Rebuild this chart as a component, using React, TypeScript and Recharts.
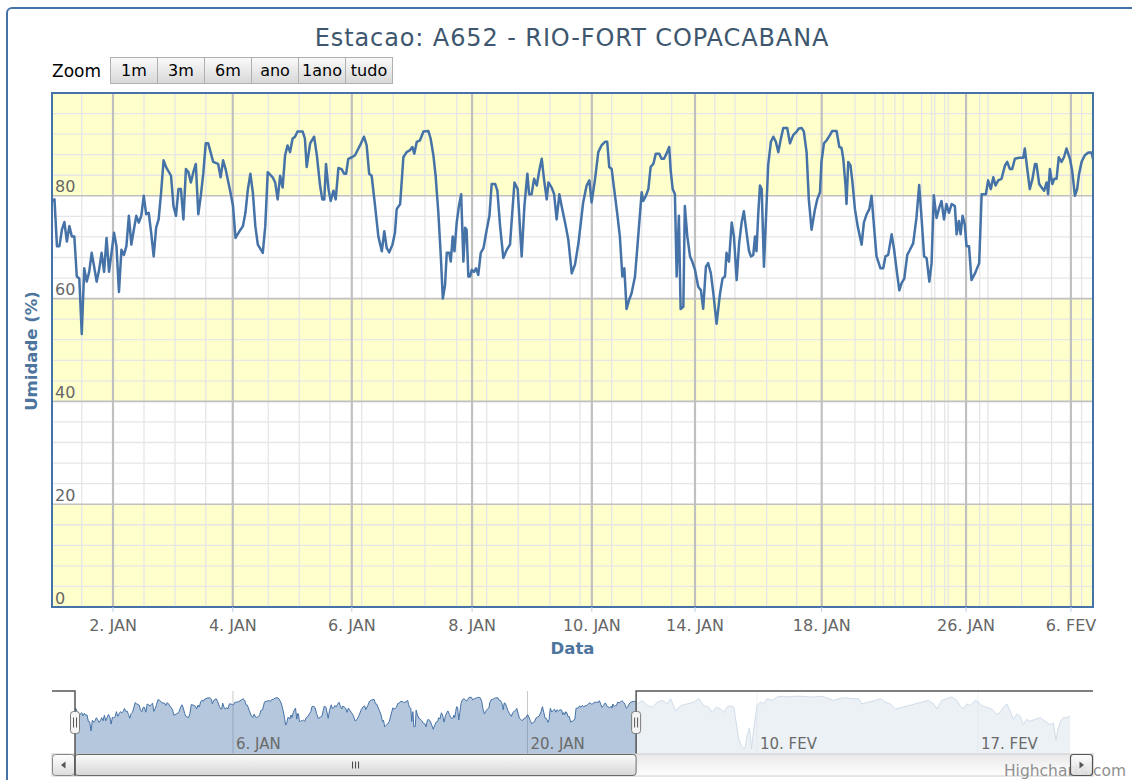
import React from 'react';
import { ComposedChart, Line, Area, XAxis, YAxis, ReferenceArea, ReferenceLine } from 'recharts';

const FONT = '"DejaVu Sans", Verdana, sans-serif';

// ordinal hour position of each reading (gaps removed, as on the chart's ordinal axis)
const JAN_HOURS = [
  0, 1, 2, 3, 4, 5, 6, 7, 8, 9,
  10, 11, 12, 13, 14, 15, 16, 17, 18, 19,
  20, 21, 22, 23, 24, 25, 26, 27, 28, 29,
  30, 31, 32, 33, 34, 35, 36, 37, 38, 39,
  40, 41, 42, 43, 44, 45, 46, 48, 49, 50,
  51, 52, 53, 54, 55, 56, 57, 58, 59, 60,
  61, 62, 63, 65, 67, 68, 69, 70, 72, 73,
  74, 76, 77, 78, 79, 80, 81, 82, 83, 85,
  86, 87, 89, 90, 91, 92, 93, 94, 95, 96,
  97, 98, 99, 101.1, 102, 102.7, 104.1, 105.7, 106.8, 108.1,
  109, 109.8, 110.5, 111.5, 112.4, 113.5, 114.4, 115.5, 116.8, 117.8,
  118.6, 119.5, 120.9, 122.2, 124.2, 125.8, 126.9, 127.9, 128.9, 130.3,
  131.6, 133, 134, 135, 136, 137.3, 138.3, 139, 140.4, 141.7,
  143, 144.4, 145.3, 146.1, 147.1, 148.4, 149.8, 151.8, 152.7, 153.8,
  154.7, 155.8, 156.8, 157.6, 158.5, 159.2, 160.2, 160.8, 161.6, 162.3,
  163.2, 164.1, 165, 165.9, 166.6, 167.2, 167.9, 168.6, 169.3, 170.2,
  171, 171.9, 172.9, 174, 175.3, 176.4, 177.3, 178.7, 179.6, 180.7,
  182, 183.4, 184.7, 185.8, 186.5, 187.8, 189.4, 190.5, 191.7, 192.4,
  193.4, 194.4, 195.5, 196.5, 197.5, 198.4, 199.5, 200.2, 201.5, 202.5,
  203.5, 204.6, 205.5, 206.9, 208.2, 209.6, 210.9, 212.3, 214.2, 215.6,
  216.7, 217.6, 219, 220.3, 221.6, 223, 223.9, 224.7, 225.7, 226.7,
  227.9, 229, 230, 230.8, 231.7, 232.7, 233.7, 235.1, 236.4, 237.8,
  238.4, 239.5, 240.5, 241.4, 242.5, 243.5, 244.9, 245.8, 246.8, 247.8,
  248.9, 249.5, 250.3, 251.2, 251.9, 252.8, 253.5, 254.6, 255.2, 256.2,
  257.3, 258.2, 259.3, 260.6, 261.7, 262.6, 263.7, 264.6, 265.7, 266.7,
  268, 269.4, 270.4, 271.4, 272, 273, 274.1, 275, 276.1, 277.1,
  278.1, 279, 280.1, 281.1, 281.9, 282.8, 283.5, 284.1, 284.8, 285.5,
  286.2, 287.1, 287.9, 288.8, 289.9, 290.9, 291.9, 292.9, 293.8, 294.9,
  296.5, 297.6, 298.9, 300.3, 301.2, 302.3, 303.2, 304.3, 305.2, 306.3,
  307.7, 308.6, 309.7, 310.3, 311.3, 312.4, 313.7, 314.6, 316.4, 317.5,
  318.4, 319.1, 320, 320.4, 321.1, 322, 322.8, 323.8, 324.9, 326.5,
  327.4, 328.5, 329.6, 330.5, 331.6, 332.5, 334.1, 335.2, 336.1, 337.2,
  338.6, 339.6, 340.6, 341.7, 342.6, 343.7, 344.9, 346, 347.3, 348.6,
  349.7, 350.7, 351.7, 352.7, 353.8, 354.7, 355.6, 356.7, 357.8, 358.7,
  359.7, 360.7, 361.7, 362.8, 364.1, 364.8, 365.7, 366.4, 367.2, 368.1,
  368.8, 369.8, 370.8, 372.2, 373.9, 374.9, 376.6, 377.5, 378.6, 379.6,
  380.5, 381.6, 382.9, 384.3, 385.2, 386.3, 387.2, 388.3, 390, 391.7,
  392.3, 393.3, 394.3, 395.4, 396.4, 397, 398.1, 399.1, 400.1, 401.1,
  401.7, 402.4, 403.4, 404.2, 405.1, 406, 407.1, 408.1, 409.1, 410.5,
  411.4, 412.5, 413.4, 414.2, 415.2, 416.5, 417.9, 419.2,
];

// relative humidity (%)
const JAN_HUMIDITY = [
  79.0, 79.3, 70.2, 70.2, 73.4, 74.9, 71.1, 74.1, 72.1, 72.1,
  64.3, 63.9, 53.1, 65.9, 63.3, 65.2, 68.9, 66.2, 63.3, 65.6,
  68.9, 65.2, 71.8, 65.2, 68.9, 72.8, 70.2, 61.3, 69.5, 68.5,
  70.2, 76.1, 70.5, 73.4, 76.1, 74.8, 76.1, 80.0, 76.4, 76.7,
  72.8, 68.2, 73.8, 75.4, 80.6, 86.9, 85.6, 83.9, 78.0, 76.1,
  81.3, 81.3, 75.4, 85.2, 84.6, 82.6, 84.6, 86.2, 76.4, 80.0,
  84.3, 90.2, 90.2, 86.6, 86.2, 83.6, 86.9, 85.2, 80.6, 78.0,
  71.8, 73.4, 74.1, 76.7, 81.3, 84.3, 80.6, 74.1, 70.5, 68.9,
  74.1, 84.6, 83.6, 82.6, 79.3, 83.9, 81.6, 87.9, 89.8, 88.5,
  91.1, 91.5, 92.5, 92.5, 91.1, 85.6, 90.2, 91.5, 87.9, 82.0,
  79.3, 79.3, 86.2, 81.3, 79.0, 81.0, 79.3, 85.4, 85.2, 84.3,
  84.3, 87.2, 87.5, 87.9, 89.8, 91.5, 89.8, 84.3, 83.9, 78.0,
  72.1, 69.2, 73.1, 69.8, 69.0, 70.5, 72.8, 77.4, 78.4, 87.5,
  88.5, 88.9, 89.5, 88.2, 90.5, 90.8, 92.5, 92.6, 91.1, 87.9,
  83.9, 76.7, 68.2, 60.0, 62.6, 68.9, 68.9, 67.2, 72.1, 69.2,
  74.8, 78.0, 80.3, 67.2, 73.8, 73.4, 64.3, 64.3, 65.6, 65.2,
  65.9, 64.6, 68.9, 69.8, 73.4, 76.1, 82.3, 82.3, 81.0, 74.1,
  67.9, 69.5, 70.5, 78.0, 82.6, 81.3, 68.2, 78.0, 84.3, 80.3,
  80.3, 83.3, 82.0, 84.9, 87.2, 83.3, 79.3, 82.6, 81.6, 80.3,
  75.4, 80.3, 78.0, 74.8, 71.5, 64.9, 66.6, 70.8, 78.7, 82.0,
  83.0, 78.7, 83.3, 88.5, 89.8, 90.5, 90.5, 85.6, 85.2, 81.3,
  76.7, 72.1, 64.3, 65.9, 58.0, 59.7, 61.0, 64.3, 72.1, 80.7,
  79.0, 80.0, 81.3, 85.6, 86.2, 88.2, 88.2, 87.2, 87.2, 88.2,
  89.5, 84.9, 81.3, 80.3, 64.3, 76.1, 58.0, 58.4, 78.0, 72.1,
  68.2, 67.2, 65.6, 62.3, 61.6, 58.0, 66.2, 66.9, 64.9, 61.0,
  55.1, 61.0, 63.9, 64.3, 68.9, 67.2, 74.8, 72.1, 63.6, 70.8,
  74.8, 77.0, 72.8, 69.2, 68.2, 68.5, 72.1, 69.2, 76.4, 82.0,
  81.3, 66.2, 75.4, 85.9, 90.5, 91.5, 90.5, 88.5, 90.8, 93.2,
  93.2, 90.2, 91.8, 92.5, 93.1, 93.2, 92.5, 88.5, 79.3, 73.4,
  77.4, 79.3, 80.7, 86.6, 90.2, 90.8, 91.8, 92.6, 92.6, 89.5,
  89.3, 87.2, 82.0, 78.4, 86.6, 85.9, 82.6, 77.4, 74.1, 70.5,
  74.8, 76.4, 77.4, 80.0, 73.4, 68.2, 65.9, 65.9, 68.2, 68.5,
  72.5, 69.5, 65.6, 61.6, 63.0, 63.9, 68.5, 69.5, 70.8, 75.7,
  82.1, 75.4, 68.2, 67.9, 63.3, 66.9, 80.1, 75.7, 77.7, 79.0,
  75.4, 78.4, 76.7, 78.4, 78.0, 72.5, 75.1, 72.5, 76.1, 74.4,
  70.2, 70.2, 63.6, 64.9, 66.9, 80.3, 80.3, 83.0, 81.3, 83.6,
  82.0, 83.0, 83.3, 85.9, 86.6, 85.2, 85.2, 87.2, 87.4, 87.4,
  89.2, 85.2, 81.3, 83.3, 86.2, 86.2, 82.3, 81.6, 81.0, 82.6,
  80.3, 85.2, 82.3, 83.3, 83.3, 87.5, 86.6, 87.5, 89.2, 87.2,
  84.9, 80.0, 81.3, 84.3, 86.6, 87.9, 88.4, 88.4,
];

// rest of the series (only visible in the navigator)
const FEB_HOURS = [
  420.7, 424.5, 428.2, 431.9, 435.7, 439.4, 443.1, 445.6, 449.4, 453.1,
  458.1, 463, 466.8, 470.5, 474.2, 476.7, 479.7, 483, 485.5, 487.9,
  490.4, 492.9, 494.7, 496.7, 499.1, 501.1, 502.9, 504.6, 506.1, 507.9,
  510.3, 512.8, 515.3, 517.8, 521.5, 525.3, 529, 534, 539, 543.9,
  548.9, 553.9, 558.9, 563.9, 567.6, 571.3, 576.3, 581.3, 586.3, 588.8,
  593.7, 598.7, 602.5, 606.2, 609.9, 613.7, 618.6, 623.6, 628.6, 633.6,
  638.5, 642.3, 644.8, 648.5, 652.2, 656, 659.7, 662.2, 664.7, 667.2,
  669.7, 673.4, 675.9, 678.4, 682.1, 685.9, 689.6, 692.1, 694.6, 697.1,
  699.5, 702, 704.5, 707, 709.5, 712, 714.5, 718.2, 722, 725.7,
  729.4, 731.9, 733.9, 735.6, 737.4, 739.4, 741.9, 744.4,
];
const FEB_HUMIDITY = [
  85.4, 89.5, 83.3, 81.3, 87.5, 89.5, 85.4, 91.6, 77.1, 83.3,
  85.4, 87.5, 91.6, 83.3, 81.3, 75.1, 81.3, 79.2, 75.1, 82.1,
  83.3, 81.3, 62.7, 42.1, 33.8, 31.8, 48.3, 56.5, 31.8, 56.5,
  83.3, 87.5, 85.4, 91.6, 89.5, 93.7, 94.5, 93.7, 94.5, 94.5,
  93.7, 93.7, 94.5, 91.6, 89.5, 91.6, 92.8, 91.6, 91.6, 85.4,
  87.5, 89.5, 91.6, 87.5, 85.4, 79.2, 81.3, 83.3, 85.4, 87.5,
  89.5, 85.4, 79.2, 89.5, 91.6, 93.7, 89.5, 83.3, 79.2, 85.4,
  83.3, 89.5, 87.5, 83.3, 81.3, 79.2, 73.0, 75.1, 81.3, 85.4,
  77.1, 66.8, 73.0, 70.9, 60.6, 66.8, 64.7, 66.8, 68.9, 64.7,
  60.6, 62.7, 42.1, 56.5, 64.7, 68.9, 68.9, 70.9,
];

const X_END = 419.8; // end of the zoomed range
const X_TICKS = [24.6, 72.9, 120.9, 169.4, 217.7, 259.3, 310.4, 368.6, 410.9];
const X_TICK_LABELS = ['2. JAN', '4. JAN', '6. JAN', '8. JAN', '10. JAN', '14. JAN', '18. JAN', '26. JAN', '6. FEV'];
const X_MINOR = [12.0, 37.1, 49.6, 62.0, 87.2, 99.7, 112.1, 124.9, 137.6, 150.4, 163.2, 175.3, 188.0, 200.8, 212.9,
  225.7, 237.8, 249.9, 267.3, 275.4, 288.2, 300.3, 323.8, 331.9, 335.2, 339.9, 343.3, 350.7, 354.7, 356.0, 360.0,
  361.4, 374.1, 377.4, 391.0, 403.1, 415.2];
const Y_MAJOR = [0, 20, 40, 60, 80, 100];
const Y_LABELS = [0, 20, 40, 60, 80];
const Y_BANDS = [[0, 20], [40, 60], [80, 100]];
const Y_MINOR_STEP = 4;
const NAV_TICKS = [118.2, 338.5, 510.2, 675.5];
const NAV_TICK_LABELS = ['6. JAN', '20. JAN', '10. FEV', '17. FEV'];
const RANGE_BUTTONS = ['1m', '3m', '6m', 'ano', '1ano', 'tudo'];

const HOURS = [...JAN_HOURS, ...FEB_HOURS];
const HUMIDITY = [...JAN_HUMIDITY, ...FEB_HUMIDITY];
const SERIES = HOURS.map((h, i) => ({ h, v: HUMIDITY[i] }));
const NAV_END = HOURS[HOURS.length - 1];
const navMin = Math.min(...HUMIDITY);
const navMax = Math.max(...HUMIDITY);
const navPad = (navMax - navMin) * 0.1;
const NAV_DOMAIN = [navMin - navPad, navMax + navPad];

const Y_MINOR: number[] = [];
for (let v = Y_MINOR_STEP; v < 100; v += Y_MINOR_STEP) if (v % 20 !== 0) Y_MINOR.push(v);

const SB_H = 22;
const BTN_W = 23;

const yLabel = (v: number) => (p: any) => {
  const vb = p.viewBox || {};
  return (
    <text x={vb.x + 3} y={vb.y - 3.5} fill="#666" fontSize={16} fontFamily={FONT}>{v}</text>
  );
};

const navLabel = (s: string) => (p: any) => {
  const vb = p.viewBox || {};
  return (
    <text x={vb.x + 3} y={vb.y + vb.height - 5} fill="#6a6a6a" fontSize={15} fontFamily={FONT}>{s}</text>
  );
};

const handle = (x: number, cy: number) => (
  <g>
    <rect x={x - 4.5} y={cy - 11} width={9} height={22} rx={3} fill="#f4f4f4" stroke="#7a7a7a" strokeWidth={1} />
    <line x1={x - 1.5} y1={cy - 5} x2={x - 1.5} y2={cy + 5} stroke="#555" strokeWidth={1} />
    <line x1={x + 1.5} y1={cy - 5} x2={x + 1.5} y2={cy + 5} stroke="#555" strokeWidth={1} />
  </g>
);

const LeftSelection = (p: any) => {
  const x = p.x1;
  const top = Math.min(p.y1, p.y2);
  const bot = Math.max(p.y1, p.y2);
  return (
    <g>
      <path d={`M ${x - BTN_W} ${top} L ${x} ${top} L ${x} ${bot + SB_H}`} stroke="#555" strokeWidth={1.5} fill="none" />
      {handle(x, (top + bot) / 2)}
    </g>
  );
};

const RightHandle = (p: any) => {
  const x = p.x1;
  const top = Math.min(p.y1, p.y2);
  const bot = Math.max(p.y1, p.y2);
  return handle(x, (top + bot) / 2);
};

const MaskShape = (p: any) => {
  const { x, y, width, height } = p;
  return (
    <g>
      <rect x={x} y={y} width={width} height={height} fill="#ffffff" fillOpacity={0.75} />
      <path d={`M ${x} ${y + height + SB_H} L ${x} ${y} L ${x + width + BTN_W} ${y}`} stroke="#555" strokeWidth={1.5} fill="none" />
    </g>
  );
};

const TrackShape = (p: any) => {
  const { x, y, width, height } = p;
  const top = y + height;
  const left = x - BTN_W;
  const right = x + width;
  const cy = top + SB_H / 2;
  return (
    <g>
      <defs>
        <linearGradient id="sbTrackGrad" x1="0" y1="0" x2="0" y2="1">
          <stop offset="0" stopColor="#e8e8e8" />
          <stop offset="1" stopColor="#ffffff" />
        </linearGradient>
        <linearGradient id="sbBtnGrad" x1="0" y1="0" x2="0" y2="1">
          <stop offset="0" stopColor="#ffffff" />
          <stop offset="1" stopColor="#dcdcdc" />
        </linearGradient>
      </defs>
      <rect x={left} y={top} width={width + 2 * BTN_W} height={SB_H} fill="url(#sbTrackGrad)" stroke="#cccccc" strokeWidth={1} />
      <text x={right + BTN_W + 33} y={top + SB_H} textAnchor="end" fontSize={15.5} fill="#909090" fontFamily={FONT}>Highcharts.com</text>
      <rect x={left + 0.5} y={top + 0.5} width={BTN_W - 1} height={SB_H - 1} rx={3} fill="url(#sbBtnGrad)" stroke="#888" strokeWidth={1} />
      <path d={`M ${left + BTN_W / 2 + 2} ${cy - 3.5} L ${left + BTN_W / 2 - 2.5} ${cy} L ${left + BTN_W / 2 + 2} ${cy + 3.5} Z`} fill="#555" />
      <rect x={right + 0.5} y={top + 0.5} width={BTN_W - 1} height={SB_H - 1} rx={3} fill="url(#sbBtnGrad)" fillOpacity={0.9} stroke="#555" strokeWidth={1.2} />
      <path d={`M ${right + BTN_W / 2 - 2} ${cy - 3.5} L ${right + BTN_W / 2 + 2.5} ${cy} L ${right + BTN_W / 2 - 2} ${cy + 3.5} Z`} fill="#555" />
    </g>
  );
};

const ThumbShape = (p: any) => {
  const { x, y, width, height } = p;
  const top = y + height;
  const cx = x + width / 2;
  const cy = top + SB_H / 2;
  return (
    <g>
      <defs>
        <linearGradient id="sbThumbGrad" x1="0" y1="0" x2="0" y2="1">
          <stop offset="0" stopColor="#fbfbfb" />
          <stop offset="1" stopColor="#d6d6d6" />
        </linearGradient>
      </defs>
      <rect x={x} y={top + 0.5} width={width} height={SB_H - 1} rx={3} fill="url(#sbThumbGrad)" stroke="#6a6a6a" strokeWidth={1} />
      {[-3, 0, 3].map((d) => (
        <line key={d} x1={cx + d} y1={cy - 3.5} x2={cx + d} y2={cy + 3.5} stroke="#444" strokeWidth={1} />
      ))}
    </g>
  );
};

export default function App() {
  return (
    <div style={{ position: 'fixed', left: 0, top: 0, width: 1132, height: 780, overflow: 'hidden', background: '#fff', fontFamily: FONT }}>
      <div style={{ position: 'absolute', left: 6, top: 7, width: 1400, height: 1000, border: '2px solid #4572A7', borderRadius: 6, boxSizing: 'border-box' }} />
      <svg width={1132} height={780} style={{ position: 'absolute', left: 0, top: 0 }}>
        <defs>
          <linearGradient id="rsBtnGrad" x1="0" y1="0" x2="0" y2="1">
            <stop offset="0" stopColor="#fafafa" />
            <stop offset="1" stopColor="#d8d8d8" />
          </linearGradient>
        </defs>
        <text x={572} y={46} textAnchor="middle" fontSize={24} letterSpacing={0.9} fill="#3E576F" fontFamily={FONT}>
          Estacao: A652 - RIO-FORT COPACABANA
        </text>
        <text x={52} y={77} fontSize={17} fill="#000" fontFamily={FONT}>Zoom</text>
        {RANGE_BUTTONS.map((b, i) => (
          <g key={b}>
            <rect x={110.5 + i * 47} y={57.5} width={47} height={26} fill="url(#rsBtnGrad)" stroke="#b0b0b0" strokeWidth={1} />
            <text x={134 + i * 47} y={76} textAnchor="middle" fontSize={16} fill="#000" fontFamily={FONT}>{b}</text>
          </g>
        ))}
        <text x={37} y={351} transform="rotate(-90 37 351)" textAnchor="middle" fontSize={16.5} fontWeight="bold" fill="#4d759e" fontFamily={FONT}>
          Umidade (%)
        </text>
        <text x={572.5} y={654} textAnchor="middle" fontSize={16.5} fontWeight="bold" fill="#4d759e" fontFamily={FONT}>Data</text>
      </svg>

      <div style={{ position: 'absolute', left: 0, top: 0 }}>
        <ComposedChart width={1132} height={660} data={SERIES} margin={{ top: 93, right: 39, bottom: 22, left: 52 }}>
          <XAxis
            dataKey="h"
            type="number"
            domain={[0, X_END]}
            allowDataOverflow
            ticks={X_TICKS}
            interval={0}
            tickFormatter={(t: number) => X_TICK_LABELS[X_TICKS.indexOf(t)] ?? ''}
            height={31}
            axisLine={false}
            tickLine={{ stroke: '#C0D0E0', strokeWidth: 1 }}
            tickSize={5}
            tickMargin={8}
            tick={{ fill: '#666', fontSize: 16, fontFamily: FONT }}
          />
          <YAxis type="number" domain={[0, 100]} hide allowDataOverflow />
          {Y_BANDS.map(([a, b]) => (
            <ReferenceArea key={`band-${a}`} x1={0} x2={X_END} y1={a} y2={b} fill="#FFFFCC" fillOpacity={1} stroke="none" zIndex={1} />
          ))}
          {Y_MINOR.map((v) => (
            <ReferenceLine key={`ym-${v}`} y={v} stroke="#E6E6E6" strokeWidth={1.3} zIndex={2} />
          ))}
          {X_MINOR.map((h) => (
            <ReferenceLine key={`xm-${h}`} x={h} stroke="#E6E6E6" strokeWidth={1.3} zIndex={2} />
          ))}
          {Y_MAJOR.map((v) => (
            <ReferenceLine key={`yM-${v}`} y={v} stroke="#C0C0C0" strokeWidth={1.6} zIndex={3}
              label={Y_LABELS.includes(v) ? yLabel(v) : undefined} />
          ))}
          {X_TICKS.map((h) => (
            <ReferenceLine key={`xM-${h}`} x={h} stroke="#C0C0C0" strokeWidth={2.2} zIndex={3} />
          ))}
          <Line dataKey="v" type="linear" stroke="#4572A7" strokeWidth={2.5} dot={false} activeDot={false}
            isAnimationActive={false} strokeLinejoin="round" zIndex={10} />
          <ReferenceArea x1={0} x2={X_END} y1={0} y2={100} fill="none" stroke="#4572A7" strokeWidth={2} zIndex={20} />
        </ComposedChart>
      </div>

      <div style={{ position: 'absolute', left: 0, top: 680 }}>
        <ComposedChart width={1132} height={100} data={SERIES} margin={{ top: 11, right: 62, bottom: 26, left: 75 }}>
          <XAxis dataKey="h" type="number" domain={[0, NAV_END]} hide />
          <YAxis type="number" domain={NAV_DOMAIN} hide />
          {NAV_TICKS.map((t) => (
            <ReferenceLine key={`ng-${t}`} x={t} stroke="#C8C8C8" strokeWidth={1} zIndex={5} />
          ))}
          <Area dataKey="v" type="linear" stroke="#4572A7" strokeWidth={1} fill="#4572A7" fillOpacity={0.4}
            dot={false} activeDot={false} isAnimationActive={false} zIndex={10} />
          <ReferenceArea x1={X_END} x2={NAV_END} shape={MaskShape} zIndex={20} />
          <ReferenceArea x1={0} x2={NAV_END} shape={TrackShape} zIndex={30} />
          <ReferenceArea x1={0} x2={X_END} shape={ThumbShape} zIndex={40} />
          {NAV_TICKS.map((t, i) => (
            <ReferenceLine key={`nl-${t}`} x={t} stroke="none" zIndex={45} label={navLabel(NAV_TICK_LABELS[i])} />
          ))}
          <ReferenceLine x={0} shape={LeftSelection} zIndex={50} />
          <ReferenceLine x={X_END} shape={RightHandle} zIndex={50} />
        </ComposedChart>
      </div>
    </div>
  );
}
